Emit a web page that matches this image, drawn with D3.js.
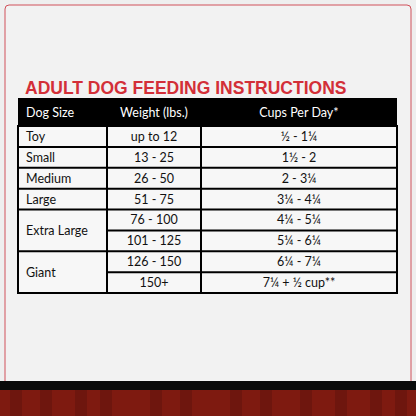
<!DOCTYPE html>
<html><head><meta charset="utf-8">
<script src="https://cdn.jsdelivr.net/npm/d3@7"></script>
<style>body{margin:0;background:#ececec}</style></head>
<body><svg id="c" width="416" height="416"></svg>
<script>
const headers = ["Dog Size", "Weight (lbs.)", "Cups Per Day*"];
const sizes = [["Toy",1],["Small",1],["Medium",1],["Large",1],["Extra Large",2],["Giant",2]];
const weights = ["up to 12","13 - 25","26 - 50","51 - 75","76 - 100","101 - 125","126 - 150","150+"];
const cups = ["½ - 1¼","1½ - 2","2 - 3¼","3¼ - 4¼","4¼ - 5¼","5¼ -  6¼","6¼ - 7¼","7¼ + ½ cup**"];
const title = "ADULT DOG FEEDING INSTRUCTIONS";

const svg = d3.select("#c");
svg.append("rect").attr("width",416).attr("height",416).attr("fill","#efefef");
svg.append("rect").attr("x",5).attr("y",5).attr("width",406).attr("height",400).attr("rx",4)
  .attr("fill","#f2f2f2").attr("stroke","#d0505a").attr("stroke-width",1);
// bottom floor
svg.append("rect").attr("x",0).attr("y",381).attr("width",416).attr("height",9).attr("fill","#0a0a0a");
svg.append("rect").attr("x",0).attr("y",390).attr("width",416).attr("height",26).attr("fill","#7e1a10");
const stripes = [10,40,75,100,150,180,230,260,300,335,370,395];
svg.selectAll(".st").data(stripes).join("rect").attr("x",d=>d).attr("y",390).attr("width",12).attr("height",26)
  .attr("fill","#5e120b").attr("opacity",0.5);

svg.append("text").attr("x",25).attr("y",94).text(title)
  .attr("font-family","Liberation Sans, Arial").attr("font-weight","bold").attr("font-size",17.5)
  .attr("fill","#d32f38");

const x0=18, x1=107, x2=201, x3=397;
const y = d3.scaleBand().domain(d3.range(weights.length)).range([126,293]);
const hdrTop=98;
const font="Lato, 'Open Sans', sans-serif";
svg.append("rect").attr("x",x0).attr("y",hdrTop).attr("width",x3-x0).attr("height",126-hdrTop).attr("fill","#000");
const hx=[[x0+8,"start"],[(x1+x2)/2,"middle"],[(x2+x3)/2,"middle"]];
headers.forEach((h,i)=>svg.append("text").attr("x",hx[i][0]).attr("y",117).attr("text-anchor",hx[i][1])
  .attr("fill","#fff").attr("font-family",font).attr("font-size",12.5).text(h));
svg.append("rect").attr("x",x0).attr("y",126).attr("width",x3-x0).attr("height",293-126)
  .attr("fill","#f7f7f7").attr("stroke","#000").attr("stroke-width",2);
const g=svg.append("g");
// column lines
[x1,x2].forEach(x=>g.append("line").attr("x1",x).attr("x2",x).attr("y1",126).attr("y2",293).attr("stroke","#000").attr("stroke-width",2));
// row lines
weights.forEach((w,i)=>{ if(i===0) return;
  g.append("line").attr("x1",x1).attr("x2",x3).attr("y1",y(i)).attr("y2",y(i)).attr("stroke","#000").attr("stroke-width",2);
});
let idx=0;
sizes.forEach(([s,n])=>{
  if(idx>0) g.append("line").attr("x1",x0).attr("x2",x1).attr("y1",y(idx)).attr("y2",y(idx)).attr("stroke","#000").attr("stroke-width",2);
  const cy=y(idx)+n*y.bandwidth()/2;
  g.append("text").attr("x",x0+8).attr("y",cy+4.5).text(s).attr("font-family",font).attr("font-size",12.5).attr("fill","#111");
  idx+=n;
});
weights.forEach((w,i)=>g.append("text").attr("x",(x1+x2)/2).attr("y",y(i)+y.bandwidth()/2+4.5).attr("text-anchor","middle")
  .text(w).attr("font-family",font).attr("font-size",12.5).attr("fill","#111"));
cups.forEach((c,i)=>g.append("text").attr("x",(x2+x3)/2).attr("y",y(i)+y.bandwidth()/2+4.5).attr("text-anchor","middle")
  .text(c).attr("font-family",font).attr("font-size",12.5).attr("fill","#111"));
</script></body></html>
